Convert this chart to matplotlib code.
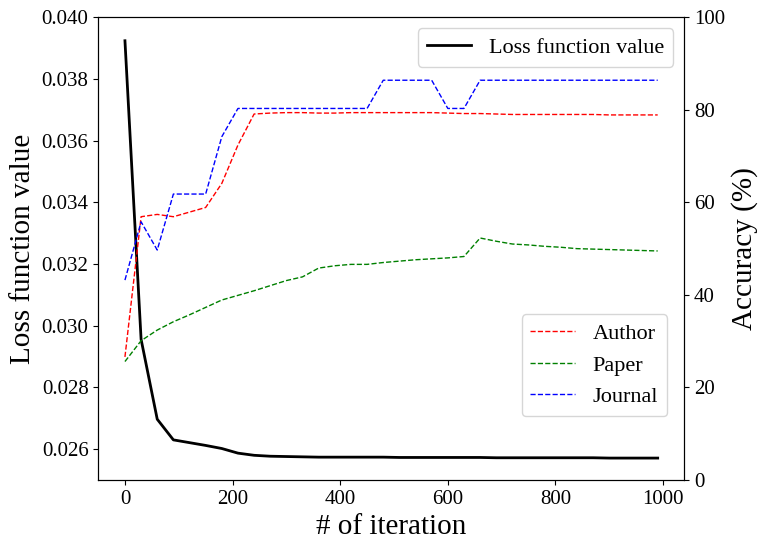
import matplotlib
matplotlib.use('Agg')
import matplotlib.pyplot as plt

plt.rcParams['font.family'] = ['Liberation Serif', 'DejaVu Serif']

iterations = list(range(0, 991, 30))

loss = [0.03924, 0.02956, 0.02697, 0.02630, 0.02621, 0.02612, 0.02602,
        0.02587, 0.02580, 0.02577, 0.02576, 0.02575, 0.02574, 0.02574,
        0.02574, 0.02574, 0.02574, 0.02573, 0.02573, 0.02573, 0.02573,
        0.02573, 0.02573, 0.02572, 0.02572, 0.02572, 0.02572, 0.02572,
        0.02572, 0.02572, 0.02571, 0.02571, 0.02571, 0.02571]

author = [26.6, 56.9, 57.4, 56.9, 57.9, 58.9, 64.1, 72.4, 79.1, 79.3,
          79.4, 79.4, 79.3, 79.3, 79.4, 79.4, 79.4, 79.4, 79.4, 79.4,
          79.3, 79.2, 79.2, 79.1, 79.0, 79.0, 79.0, 79.0, 79.0, 79.0,
          78.9, 78.9, 78.9, 78.9]

paper = [25.6, 30.1, 32.4, 34.2, 35.7, 37.3, 38.9, 39.9, 40.9, 42.0,
         43.1, 43.9, 45.8, 46.3, 46.6, 46.6, 47.0, 47.3, 47.6, 47.8,
         48.0, 48.3, 52.3, 51.6, 51.0, 50.8, 50.5, 50.3, 50.0, 49.9,
         49.8, 49.7, 49.6, 49.5]

journal = [43.2, 55.8, 49.7, 61.8, 61.8, 61.8, 74.2, 80.3, 80.3, 80.3,
           80.3, 80.3, 80.3, 80.3, 80.3, 80.3, 86.4, 86.4, 86.4, 86.4,
           80.3, 80.3, 86.4, 86.4, 86.4, 86.4, 86.4, 86.4, 86.4, 86.4,
           86.4, 86.4, 86.4, 86.4]

fig, ax1 = plt.subplots(figsize=(7.58, 5.41), dpi=100)
plt.subplots_adjust(left=0.1297, right=0.9028, bottom=0.1128, top=0.968)

ax1.plot(iterations, loss, color='k', linewidth=2, label='Loss function value')
ax1.set_ylim(0.025, 0.040)
ax1.set_xlabel('# of iteration', fontsize=21)
ax1.set_ylabel('Loss function value', fontsize=21)
ax1.tick_params(labelsize=15)
ax1.legend(loc='upper right', fontsize=16)

ax2 = ax1.twinx()
ax2.plot(iterations, author, 'r--', linewidth=1, label='Author')
ax2.plot(iterations, paper, 'g--', linewidth=1, label='Paper')
ax2.plot(iterations, journal, 'b--', linewidth=1, label='Journal')
ax2.set_ylim(0, 100)
ax2.set_ylabel('Accuracy (%)', fontsize=21)
ax2.tick_params(labelsize=15)
ax2.legend(loc='lower right', bbox_to_anchor=(0.9705, 0.138),
           borderaxespad=0, fontsize=16)

plt.savefig('out.png', dpi=100)
